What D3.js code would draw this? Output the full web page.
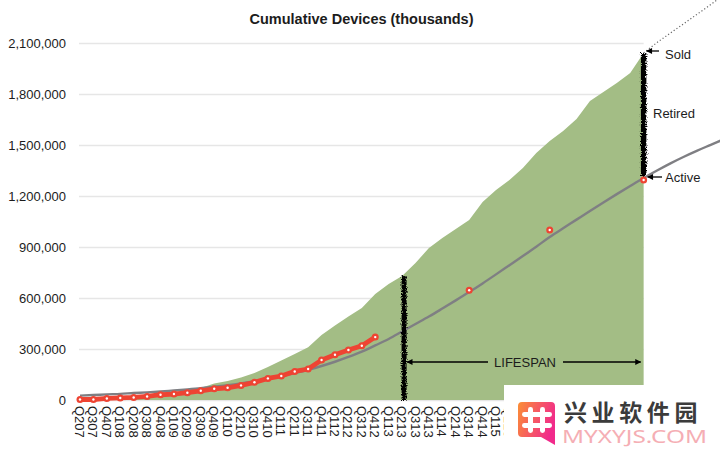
<!DOCTYPE html>
<html>
<head>
<meta charset="utf-8">
<script src="https://cdn.jsdelivr.net/npm/d3@7"></script>
<style>
  html, body { margin: 0; padding: 0; background: #fff; }
  text { font-family: "Liberation Sans", Arial, sans-serif; fill: #1c1c1c; }
  .grid line { stroke: #e6e6e6; stroke-width: 1.5; }
  .axis path, .axis .tick line { display: none; }
</style>
</head>
<body>
<div class="chart"></div>
<script>
const quarters = ["Q207","Q307","Q407","Q108","Q208","Q308","Q408","Q109","Q209","Q309","Q409",
  "Q110","Q210","Q310","Q410","Q111","Q211","Q311","Q411","Q112","Q212","Q312","Q412",
  "Q113","Q213","Q313","Q413","Q114","Q214","Q314","Q414","Q115","Q215","Q315","Q415",
  "Q116","Q216","Q316","Q416","Q117","Q217","Q317","Q417","Q118","Q218","Q318","Q418","Q119","Q219"];
// only these labels show, the rest sit behind the logo box
const shownLabels = quarters.slice(0, 33);

// cumulative sold, Q207 to Q417
const sold = [0,6,12,18,24,32,41,47,56,70,97,112,132,159,194,232,270,311,382,438,491,541,623,682,729,
  806,894,953,1006,1059,1164,1235,1294,1365,1453,1523,1582,1653,1759,1812,1865,1923,2041];
// dotted carry on past the last sold quarter
const soldForecast = [2041,2103,2159,2214,2270,2326,2385];
const active = [26,29,33,36,41,45,50,56,62,69,78,87,98,111,125,141,159,178,200,225,253,284,321,359,403,
  447,491,538,586,635,686,739,793,847,902,959,1010,1061,1112,1162,1211,1259,1306,1350,1392,1431,1467,1501,1535];
const reported = [3,3,9,12,15,21,31,35,43,54,66,72,86,104,127,141,168,182,235,266,294,319,370,
  null,null,null,null,null,null,646,null,null,null,null,null,1000,null,null,null,null,null,null,1294];

const yTicks = [0,300,600,900,1200,1500,1800,2100];
const lifespanFrom = "Q213", lifespanTo = "Q417";

const width = 720, height = 460;
const svg = d3.select(".chart").append("svg").attr("width", width).attr("height", height)
  .style("display", "block");

const xScale = d3.scalePoint().domain(quarters).range([80, 80 + 13.42 * 48]);
const yScale = d3.scaleLinear().domain([0, 2100]).range([400, 43]);
const endX = xScale(lifespanTo), startX = xScale(lifespanFrom) + 2;

const defs = svg.append("defs");
const rough = defs.append("filter").attr("id", "rough").attr("filterUnits", "userSpaceOnUse")
  .attr("x", 380).attr("y", 30).attr("width", 290).attr("height", 390);
rough.append("feTurbulence").attr("type", "fractalNoise").attr("baseFrequency", 0.9)
  .attr("numOctaves", 3).attr("seed", 7).attr("result", "n");
rough.append("feDisplacementMap").attr("in", "SourceGraphic").attr("in2", "n").attr("scale", 5)
  .attr("xChannelSelector", "R").attr("yChannelSelector", "G");
const arrow = defs.append("marker").attr("id", "arrow").attr("viewBox", "0 0 10 10")
  .attr("refX", 9).attr("refY", 5).attr("markerUnits", "userSpaceOnUse")
  .attr("markerWidth", 7).attr("markerHeight", 6).attr("orient", "auto");
arrow.append("path").attr("d", "M0,0L10,5L0,10Z").attr("fill", "#000");
const grad = defs.append("linearGradient").attr("id", "logo").attr("x1", 0).attr("y1", 0).attr("x2", 1).attr("y2", 0.4);
grad.append("stop").attr("offset", "0%").attr("stop-color", "#fb8f35");
grad.append("stop").attr("offset", "100%").attr("stop-color", "#f12a8b");

// grid and y axis
svg.append("g").attr("class", "grid").attr("transform", "translate(79,0)")
  .call(d3.axisLeft(yScale).tickValues(yTicks).tickSize(-(endX - 79)).tickFormat(""))
  .call(g => g.select(".domain").remove());

svg.append("g").attr("class", "axis").attr("transform", "translate(70,0)")
  .call(d3.axisLeft(yScale).tickValues(yTicks).tickSize(0).tickPadding(4).tickFormat(d => d3.format(",")(d * 1000)))
  .call(g => g.selectAll("text").style("font-size", "13px"));

// sold area
const area = d3.area().x((d, i) => xScale(quarters[i])).y0(yScale(0)).y1(d => yScale(d));
svg.append("path").datum(sold).attr("d", area).attr("fill", "#a3bd85");

// dotted continuation
const forecastLine = d3.line().x((d, i) => xScale(quarters[quarters.indexOf(lifespanTo) + i])).y(d => yScale(d));
svg.append("path").datum(soldForecast).attr("d", forecastLine).attr("fill", "none")
  .attr("stroke", "#666").attr("stroke-width", 1.2).attr("stroke-dasharray", "1.2 2.2");

// x axis, labels read downward
svg.append("g").attr("class", "axis").attr("transform", "translate(0,400)")
  .call(d3.axisBottom(xScale).tickValues(shownLabels).tickSize(0).tickFormat(d => d))
  .call(g => g.selectAll("text")
    .style("font-size", "13px")
    .attr("text-anchor", "start").attr("dy", 0).attr("y", 0)
    .attr("transform", "translate(-5.5,6) rotate(90)"));

// active devices
const line = d3.line().defined(d => d != null).x((d, i) => xScale(quarters[i])).y(d => yScale(d));
svg.append("path").datum(active).attr("d", line.curve(d3.curveMonotoneX)).attr("fill", "none")
  .attr("stroke", "#7f7f83").attr("stroke-width", 2.4);

// reported active, line only where the quarters run on
line.curve(d3.curveLinear);
const connected = reported.map((d, i) => (i <= 22 ? d : null));
svg.append("path").datum(connected).attr("d", line).attr("fill", "none")
  .attr("stroke", "#ee4433").attr("stroke-width", 4.8).attr("stroke-linecap", "round");

// lifespan bars
svg.append("line").attr("x1", startX).attr("x2", startX)
  .attr("y1", yScale(sold[quarters.indexOf(lifespanFrom)])).attr("y2", yScale(0))
  .attr("stroke", "#000").attr("stroke-width", 5).attr("filter", "url(#rough)");
svg.append("line").attr("x1", endX).attr("x2", endX)
  .attr("y1", yScale(sold[quarters.indexOf(lifespanTo)])).attr("y2", yScale(reported[quarters.indexOf(lifespanTo)]) - 4)
  .attr("stroke", "#000").attr("stroke-width", 5.5).attr("filter", "url(#rough)");

// markers
const points = reported.map((d, i) => ({ d, q: quarters[i] })).filter(p => p.d != null);
svg.selectAll("circle.outer").data(points).enter().append("circle").attr("class", "outer")
  .attr("cx", p => xScale(p.q)).attr("cy", p => yScale(p.d)).attr("r", 3.5).attr("fill", "#ee4433");
svg.selectAll("circle.inner").data(points).enter().append("circle").attr("class", "inner")
  .attr("cx", p => xScale(p.q)).attr("cy", p => yScale(p.d)).attr("r", 1.2).attr("fill", "#fff");

// annotations
const arrowLine = (x1, y1, x2, y2) => svg.append("line").attr("x1", x1).attr("y1", y1).attr("x2", x2).attr("y2", y2)
  .attr("stroke", "#000").attr("stroke-width", 1.3).attr("marker-end", "url(#arrow)");
arrowLine(488, 362, startX + 3, 362);
arrowLine(563, 362, endX - 3, 362);
arrowLine(659, 51, endX + 3, 51);
arrowLine(662, 177, endX + 4, 177);
const note = (s, x, y, anchor) => svg.append("text").attr("x", x).attr("y", y).attr("text-anchor", anchor || "start")
  .style("font-size", "13px").text(s);
note("LIFESPAN", 525, 367, "middle");
note("Sold", 665, 59);
note("Retired", 653, 118);
note("Active", 665, 182);

svg.append("text").attr("x", 361.5).attr("y", 24).attr("text-anchor", "middle")
  .style("font-size", "14.5px").style("font-weight", "bold").text("Cumulative Devices (thousands)");

// watermark
const wm = svg.append("g");
wm.append("rect").attr("x", 504).attr("y", 385).attr("width", 216).attr("height", 75).attr("fill", "#fff");
wm.append("path").attr("d", "M522,402H551Q555,402 555,406V445L541,437H522Q518,437 518,433V406Q518,402 522,402Z").attr("fill", "url(#logo)");
[[528,407,5,26],[540,407,5,26],[522,412,30,5],[522,423,30,5]].forEach(r =>
  wm.append("rect").attr("x", r[0]).attr("y", r[1]).attr("width", r[2]).attr("height", r[3]).attr("rx", 2.4).attr("fill", "#fff"));
wm.append("text").attr("x", 564).attr("y", 421).style("letter-spacing", "4.6px")
  .style("font-family", '"Noto Sans CJK SC"').style("font-size", "23px").style("font-weight", "bold")
  .style("fill", "#3b3b3b").text("兴业软件园");
wm.append("text").attr("x", 562).attr("y", 443).attr("textLength", 145).attr("lengthAdjust", "spacingAndGlyphs")
  .style("font-family", '"Noto Sans", sans-serif').style("font-size", "18px")
  .style("fill", "#f5aeb4").text("MYXYJS.COM");
</script>
</body>
</html>
